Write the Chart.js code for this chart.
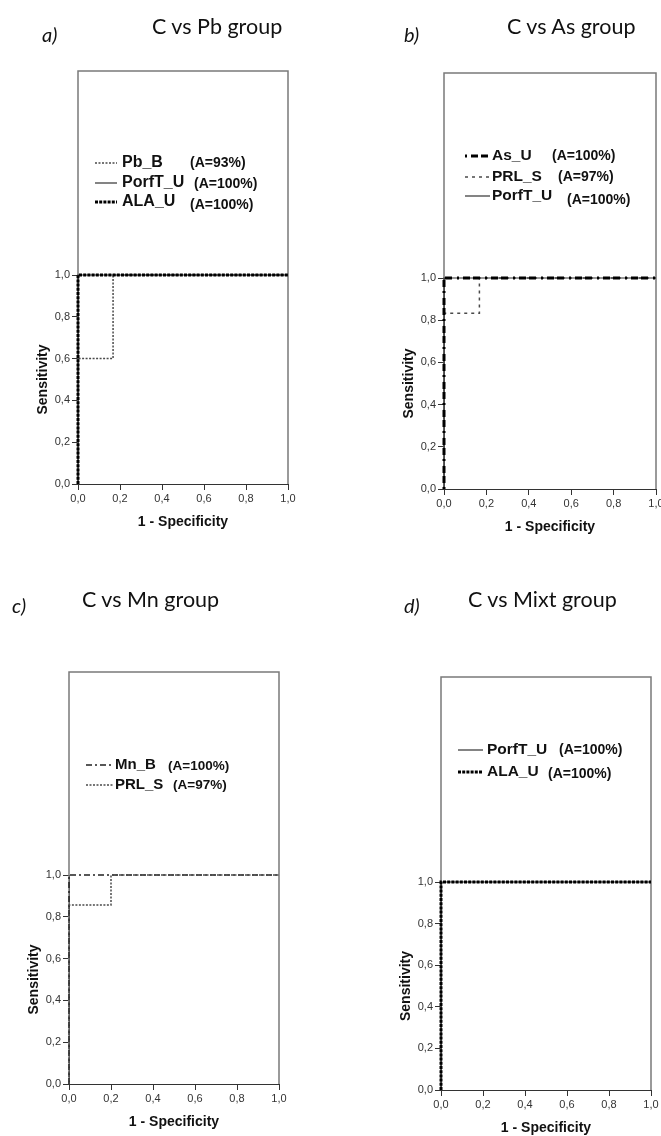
<!DOCTYPE html>
<html>
<head>
<meta charset="utf-8">
<script src="https://cdn.jsdelivr.net/npm/chart.js@4.4.1/dist/chart.umd.min.js"></script>
<style>
  html, body { margin: 0; padding: 0; background: #fff; }
  body { width: 661px; height: 1136px; overflow: hidden; position: relative; }
  canvas { position: absolute; }
  .lbl { position: absolute; font-family: Lato, "Open Sans", sans-serif; color: #111; line-height: 1; transform: translateY(-50%); white-space: nowrap; }
  .letter { font-style: italic; font-size: 20px; }
  .ttl { font-size: 21.5px; }
</style>
</head>
<body>
<canvas id="rocA"></canvas>
<canvas id="rocB"></canvas>
<canvas id="rocC"></canvas>
<canvas id="rocD"></canvas>

<script>
/* ---------- data ---------- */
const panelLetters = ['a)', 'b)', 'c)', 'd)'];
const panelTitles  = ['C vs Pb group', 'C vs As group', 'C vs Mn group', 'C vs Mixt group'];

const axisTicks = [0, 0.2, 0.4, 0.6, 0.8, 1.0];

// a) C vs Pb
const pbB_fpr     = [0, 0, 0.167, 0.167, 1];
const pbB_sens    = [0, 0.6, 0.6, 1, 1];
const porfTa_fpr  = [0, 0, 1];
const porfTa_sens = [0, 1, 1];
const alaA_fpr    = [0, 0, 1];
const alaA_sens   = [0, 1, 1];

// b) C vs As
const asU_fpr     = [0, 0, 1];
const asU_sens    = [0, 1, 1];
const prlB_fpr    = [0, 0, 0.167, 0.167, 1];
const prlB_sens   = [0, 0.833, 0.833, 1, 1];
const porfTb_fpr  = [0, 0, 1];
const porfTb_sens = [0, 1, 1];

// c) C vs Mn
const mnB_fpr     = [0, 0, 1];
const mnB_sens    = [0, 1, 1];
const prlC_fpr    = [0, 0, 0.2, 0.2, 1];
const prlC_sens   = [0, 0.857, 0.857, 1, 1];

// d) C vs Mixt
const porfTd_fpr  = [0, 0, 1];
const porfTd_sens = [0, 1, 1];
const alaD_fpr    = [0, 0, 1];
const alaD_sens   = [0, 1, 1];

const namesA = ['Pb_B', 'PorfT_U', 'ALA_U'];
const aucA   = ['(A=93%)', '(A=100%)', '(A=100%)'];
const namesB = ['As_U', 'PRL_S', 'PorfT_U'];
const aucB   = ['(A=100%)', '(A=97%)', '(A=100%)'];
const namesC = ['Mn_B', 'PRL_S'];
const aucC   = ['(A=100%)', '(A=97%)'];
const namesD = ['PorfT_U', 'ALA_U'];
const aucD   = ['(A=100%)', '(A=100%)'];

/* ---------- line styles ---------- */
const STYLE = {
  pbB:   { color: '#4a4a4a', width: 1.5, dash: [2, 1.5], order: 1 },
  porfT: { color: '#333', width: 1.2, dash: [],       order: 2 },
  ala:   { color: '#000', width: 3,   dash: [3, 1.2], order: 0 },
  asU:   { color: '#000', width: 3,   dash: [2, 4, 7, 3, 7, 5], order: 0 },
  prlB:  { color: '#4a4a4a', width: 1.5, dash: [3, 4],   order: 1 },
  mnB:   { color: '#222', width: 1.5, dash: [6, 3, 2, 3], order: 1 },
  prlC:  { color: '#4a4a4a', width: 1.5, dash: [2, 1.5], order: 0 },
};

/* ---------- layout (canvas coords) ---------- */
const PANELS = [
  { id: 'rocA', left: 0,   top: 0,   w: 330, h: 535, pad: { left: 31, right: 42, top: 275 }, frameTop: 71,
    letter: [42, 34], title: [152, 27],
    legend: { x1: 95, x2: 117, textX: 122, rows: [163, 183, 202], aucX: [190, 194, 190], aucY: [163, 184, 205], nameSize: 16, aucSize: 14 } },
  { id: 'rocB', left: 330, top: 0,   w: 345, h: 540, pad: { left: 67, right: 19, top: 278 }, frameTop: 73,
    letter: [404, 34], title: [507, 27],
    legend: { x1: 135, x2: 160, textX: 162, rows: [156, 177, 196], aucX: [222, 228, 237], aucY: [156, 177, 200], nameSize: 15.5, aucSize: 14 } },
  { id: 'rocC', left: 0,   top: 560, w: 330, h: 575, pad: { left: 22, right: 51, top: 315 }, frameTop: 112,
    letter: [12, 605], title: [82, 600],
    legend: { x1: 86, x2: 113, textX: 115, rows: [205, 225], aucX: [168, 173], aucY: [206, 225], nameSize: 15, aucSize: 13.5 } },
  { id: 'rocD', left: 330, top: 560, w: 331, h: 581, pad: { left: 64, right: 10, top: 322 }, frameTop: 117,
    letter: [404, 605], title: [468, 600],
    legend: { x1: 128, x2: 153, textX: 157, rows: [190, 212], aucX: [229, 218], aucY: [190, 214], nameSize: 15.5, aucSize: 14 } },
];

const SERIES = [
  [[pbB_fpr, pbB_sens, STYLE.pbB], [porfTa_fpr, porfTa_sens, STYLE.porfT], [alaA_fpr, alaA_sens, STYLE.ala]],
  [[asU_fpr, asU_sens, STYLE.asU], [prlB_fpr, prlB_sens, STYLE.prlB], [porfTb_fpr, porfTb_sens, STYLE.porfT]],
  [[mnB_fpr, mnB_sens, STYLE.mnB], [prlC_fpr, prlC_sens, STYLE.prlC]],
  [[porfTd_fpr, porfTd_sens, STYLE.porfT], [alaD_fpr, alaD_sens, STYLE.ala]],
];
const NAMES = [namesA, namesB, namesC, namesD];
const AUCS  = [aucA, aucB, aucC, aucD];

Chart.defaults.font.family = '"Liberation Sans", Arial, sans-serif';
Chart.defaults.color = '#222';

const fmtComma = v => Number(v).toFixed(1).replace('.', ',');

// frame above the 0..1 area + legend inside the box
const rocFrame = {
  id: 'rocFrame',
  beforeDatasetsDraw(chart, args, opts) {
    const { ctx, chartArea: a } = chart;
    ctx.save();
    ctx.strokeStyle = '#7a7a7a';
    ctx.lineWidth = 1.5;
    ctx.beginPath();
    ctx.moveTo(a.left, a.bottom);
    ctx.lineTo(a.left, opts.frameTop);
    ctx.lineTo(a.right, opts.frameTop);
    ctx.lineTo(a.right, a.bottom);
    ctx.stroke();
    ctx.restore();
  },
  afterDraw(chart, args, opts) {
    const { ctx } = chart;
    const L = opts.legend;
    ctx.save();
    chart.data.datasets.forEach((ds, i) => {
      const y = L.rows[i];
      ctx.strokeStyle = ds.borderColor;
      ctx.lineWidth = ds.borderWidth;
      ctx.setLineDash(ds.borderDash);
      ctx.beginPath();
      ctx.moveTo(L.x1, y);
      ctx.lineTo(L.x2, y);
      ctx.stroke();
      ctx.setLineDash([]);
      ctx.fillStyle = '#111';
      ctx.textBaseline = 'middle';
      ctx.textAlign = 'left';
      ctx.font = `bold ${L.nameSize}px "Liberation Sans", Arial, sans-serif`;
      ctx.fillText(ds.label, L.textX, y);
      ctx.font = `bold ${L.aucSize}px "Liberation Sans", Arial, sans-serif`;
      ctx.fillText(ds.auc, L.aucX[i], L.aucY[i]);
    });
    ctx.restore();
  },
};

function makeRoc(p, series, names, aucs) {
  const canvas = document.getElementById(p.id);
  canvas.width = p.w;
  canvas.height = p.h;
  canvas.style.left = p.left + 'px';
  canvas.style.top = p.top + 'px';

  return new Chart(canvas.getContext('2d'), {
    type: 'scatter',
    data: {
      datasets: series.map(([xs, ys, st], i) => ({
        label: names[i],
        auc: aucs[i],
        data: xs.map((x, k) => ({ x, y: ys[k] })),
        showLine: true,
        borderColor: st.color,
        backgroundColor: st.color,
        borderWidth: st.width,
        borderDash: st.dash,
        pointRadius: 0,
        pointHoverRadius: 0,
        tension: 0,
        clip: false,
        order: st.order,
      })),
    },
    plugins: [rocFrame],
    options: {
      responsive: false,
      animation: false,
      layout: { padding: { left: p.pad.left, right: p.pad.right, top: p.pad.top, bottom: 0 } },
      plugins: {
        legend: { display: false },
        tooltip: { enabled: false },
        rocFrame: { frameTop: p.frameTop, legend: p.legend },
      },
      scales: {
        x: {
          type: 'linear', min: 0, max: 1,
          afterBuildTicks: s => { s.ticks = axisTicks.map(v => ({ value: v })); },
          afterFit: s => { s.height = 51; },
          grid: { drawOnChartArea: false, tickLength: 6, color: '#333' },
          border: { color: '#333', width: 1 },
          ticks: { callback: fmtComma, padding: 2, maxRotation: 0, font: { size: 11 }, color: '#333' },
          title: { display: true, text: '1 - Specificity', font: { size: 14, weight: 'bold' }, color: '#111' },
        },
        y: {
          type: 'linear', min: 0, max: 1,
          afterBuildTicks: s => { s.ticks = axisTicks.map(v => ({ value: v })); },
          afterFit: s => { s.width = 47; },
          grid: { drawOnChartArea: false, tickLength: 6, color: '#333' },
          border: { color: '#333', width: 1 },
          ticks: { callback: fmtComma, padding: 2, font: { size: 11 }, color: '#333' },
          title: { display: true, text: 'Sensitivity', font: { size: 14, weight: 'bold' }, color: '#111' },
        },
      },
    },
  });
}

PANELS.forEach((p, i) => {
  const letter = document.createElement('div');
  letter.className = 'lbl letter';
  letter.textContent = panelLetters[i];
  letter.style.left = p.letter[0] + 'px';
  letter.style.top = p.letter[1] + 'px';
  document.body.appendChild(letter);

  const title = document.createElement('div');
  title.className = 'lbl ttl';
  title.textContent = panelTitles[i];
  title.style.left = p.title[0] + 'px';
  title.style.top = p.title[1] + 'px';
  document.body.appendChild(title);

  makeRoc(p, SERIES[i], NAMES[i], AUCS[i]);
});
</script>
</body>
</html>
